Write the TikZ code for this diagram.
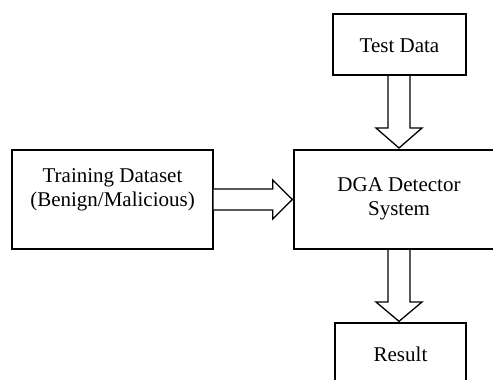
\documentclass[tikz,border=0pt]{standalone}
\usepackage{fontspec}
\setmainfont{Liberation Serif}
\usetikzlibrary{calc}
\tikzset{
  box/.style={draw=black, line width=1.3pt, minimum width=#1, inner sep=0pt},
  lbl/.style={font=\fontsize{21}{24}\selectfont, align=center, inner sep=0pt},
  fat/.style={draw=black, line width=1.3pt, fill=white, line join=miter}
}
\begin{document}
\begin{tikzpicture}[x=1pt,y=1pt]
\useasboundingbox (0,0) rectangle (493,-380);
% boxes
\node[box=133pt, minimum height=61pt] (test) at (399.5,-44.5) {};
\node[box=201pt, minimum height=99pt] (train) at (112.5,-199.5) {};
\node[box=204pt, minimum height=99pt] (dga) at (396,-199.5) {};
\node[box=131pt, minimum height=64pt] (res) at (400.5,-355) {};
% labels
\node[lbl] (testl) at ($(test.center)+(0,-1.5)$) {Test Data};
\node[lbl] (trainl) at ($(train.center)+(0,10)$) {Training Dataset\\(Benign/Malicious)};
\node[lbl] (dgal) at ($(dga.center)+(3,1)$) {DGA Detector\\System};
\node[lbl] (resl) at ($(res.center)+(0,1)$) {Result};
% arrow test -> dga
\coordinate (a1) at (399,-75);
\draw[fat] ($(a1)+(-11,-1)$) -- ($(a1)+(-11,-53)$) -- ($(a1)+(-23,-53)$) -- (399,-148) -- ($(a1)+(23,-53)$) -- ($(a1)+(11,-53)$) -- ($(a1)+(11,-1)$);
% arrow train -> dga
\coordinate (a2) at (train.east);
\draw[fat] ($(a2)+(0,10.5)$) -- ($(a2)+(59,10.5)$) -- ($(a2)+(59,19.5)$) -- ($(dga.west)+(-1,0)$) -- ($(a2)+(59,-19.5)$) -- ($(a2)+(59,-10.5)$) -- ($(a2)+(0,-10.5)$);
% arrow dga -> result
\coordinate (a3) at (399,-249);
\draw[fat] ($(a3)+(-11,-1)$) -- ($(a3)+(-11,-53)$) -- ($(a3)+(-23,-53)$) -- ($(res.north)+(-1.5,1)$) -- ($(a3)+(23,-53)$) -- ($(a3)+(11,-53)$) -- ($(a3)+(11,-1)$);
\end{tikzpicture}
\end{document}
